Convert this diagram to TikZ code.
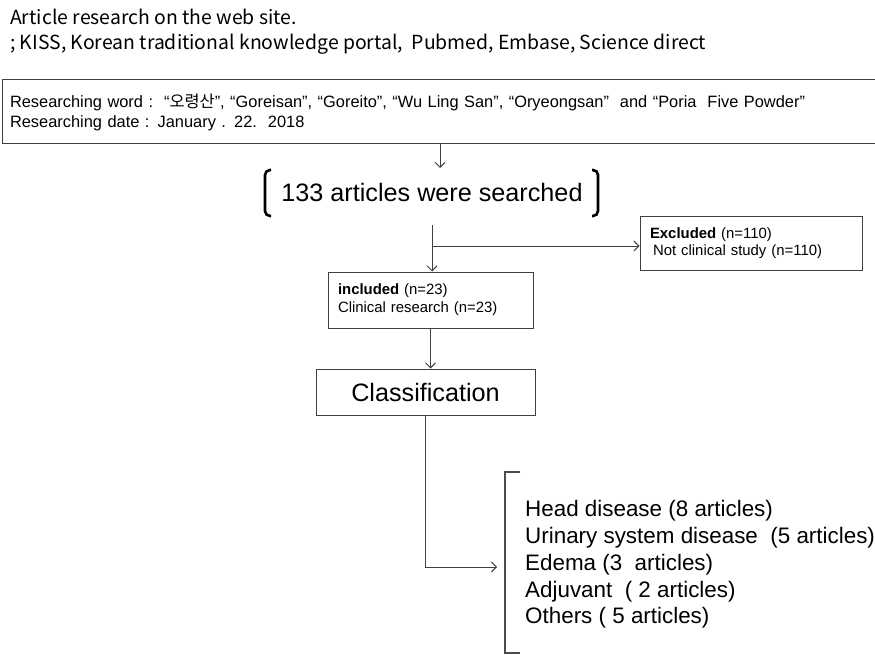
\documentclass[tikz,border=0pt]{standalone}
\usepackage{fontspec}
\setmainfont{Liberation Sans}
\newfontfamily\korfont{Noto Sans CJK KR}
\usetikzlibrary{arrows.meta}
\tikzset{
  box/.style={draw=black!75, line width=1pt, inner ysep=0pt, align=left},
  link/.style={draw=black!75, line width=0.9pt},
  flow/.style={link, -{Straight Barb[length=5pt,width=10pt]}},
  bigbracket/.style={draw=black, line width=2.6pt, rounded corners=5pt},
  listbracket/.style={draw=black!70, line width=1.1pt},
}

\begin{document}
\begin{tikzpicture}[x=1pt,y=-1pt]
  \useasboundingbox (0,0) rectangle (875,655);
  \node [anchor=north west, inner sep=0pt, align=left,
         font=\korfont\fontsize{19.4}{25}\selectfont] (source) at (10,9)
        {Article research on the web site.\\; KISS,~Korean traditional knowledge portal,~~Pubmed, Embase, Science direct};
  \node [box, minimum width=876pt, minimum height=64pt, text width=860pt, inner xsep=8pt,
         font=\fontsize{16.4}{20}\selectfont] (query) at (440,112)
        {Researching word :~~“{\korfont 오령산}”, “Goreisan”,~“Goreito”,~“Wu Ling San”,~“Oryeongsan”~~and “Poria~~Five Powder”\\
         Researching date : January . 22.~~2018};
  \node [inner sep=0pt, font=\fontsize{25.2}{29}\selectfont] (searched) at (432,192) {133 articles were searched};
  \draw [bigbracket] (271,170) -- (265,170) -- (265,216) -- (271,216);
  \draw [bigbracket] (592,170) -- (598,170) -- (598,216) -- (592,216);
  \node [box, minimum width=222pt, minimum height=54pt, text width=202pt, inner xsep=10pt,
         font=\fontsize{14.9}{17}\selectfont] (excluded) at (751,243)
        {\textbf{Excluded} (n=110)\\\hspace{3pt}Not clinical study (n=110)};
  \node [box, minimum width=205pt, minimum height=56pt, text width=185pt, inner xsep=10pt,
         font=\fontsize{14.9}{18}\selectfont] (included) at (430.5,300)
        {\textbf{included} (n=23)\\Clinical research (n=23)};
  \node [box, minimum width=219pt, minimum height=46pt,
         font=\fontsize{25.2}{29}\selectfont] (classification) at (425.5,392) {Classification};
  \node [anchor=west, inner sep=0pt, align=left, font=\fontsize{22.4}{26.75}\selectfont] (groups) at (525,564.5)
        {Head disease (8 articles)\\Urinary system disease~~(5 articles)\\Edema (3~~articles)\\Adjuvant~~( 2 articles)\\Others ( 5 articles)};
  \draw [listbracket] (520,472) -- (505,472) -- (505,653) -- (520,653);
  \coordinate (searchtop) at (440,168);
  \coordinate (searchbot) at (432,225);
  \coordinate (split) at (432,246);
  \coordinate (groupsin) at (497,567);
  \draw [flow] (query.south -| searchtop) -- (searchtop);
  \draw [flow] (searchbot) -- (searchbot |- included.north);
  \draw [flow] (split) -- (excluded.west |- split);
  \draw [flow] (included.south) -- (included.south |- classification.north);
  \draw [flow] (classification.south) |- (groupsin);
\end{tikzpicture}
\end{document}
